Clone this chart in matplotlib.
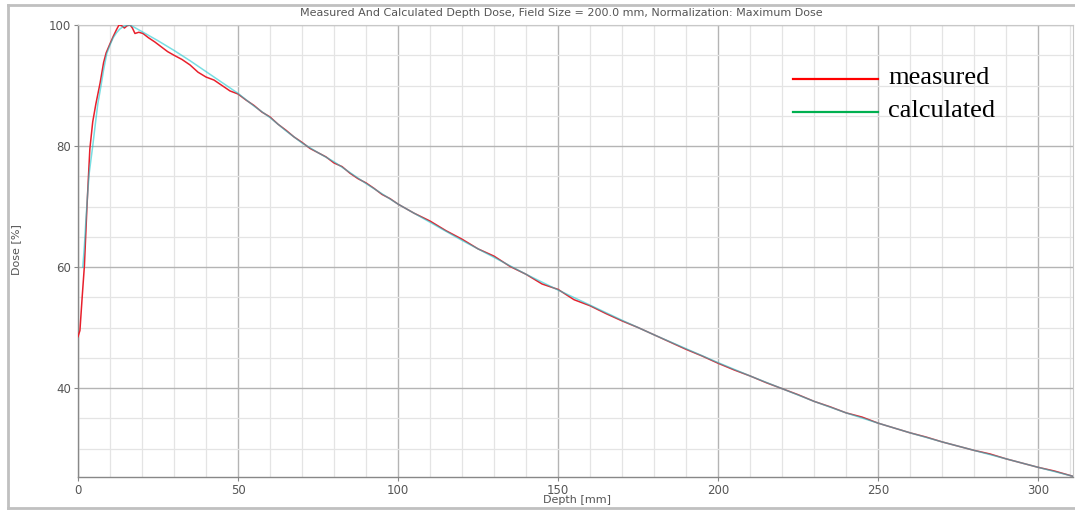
import numpy as np
import matplotlib
matplotlib.use('Agg')
import matplotlib.pyplot as plt
from matplotlib.lines import Line2D
from matplotlib.ticker import MultipleLocator

# measured depth dose (mm, %)
measDepth = [0, 0.6, 1.3, 2.0, 2.8, 3.7, 4.6, 5.6, 6.9, 8.0, 8.8, 10, 11, 12, 12.8,
             13.6, 14.5, 15.4, 16.3, 17.0, 17.8, 19.0, 20.3, 22, 24, 26, 28, 30,
             32.5, 35, 37.5, 40, 42.5, 45, 47.5, 50, 52.5, 55, 57.5, 60, 62.5, 65,
             67.5, 70, 72.5, 75, 77.5, 80, 82.5, 85, 87.5, 90, 92.5, 95, 97.5, 100,
             105, 110, 115, 120, 125, 130, 135, 140, 145, 150, 155, 160, 165, 170,
             175, 180, 185, 190, 195, 200, 205, 210, 215, 220, 225, 230, 235, 240,
             245, 250, 255, 260, 265, 270, 275, 280, 285, 290, 295, 300, 305, 311]
measDose = [48.5, 49.5, 55.0, 60.2, 70.0, 79.5, 84.0, 87.0, 90.4, 93.8, 95.4, 96.9,
            98.1, 99.2, 100.0, 99.9, 99.5, 99.9, 100.0, 99.5, 98.6, 98.8, 98.6, 97.9,
            97.2, 96.4, 95.6, 95.0, 94.3, 93.4, 92.2, 91.4, 90.9, 90.0, 89.1, 88.6,
            87.6, 86.7, 85.6, 84.8, 83.6, 82.6, 81.5, 80.6, 79.6, 78.9, 78.2, 77.2,
            76.6, 75.5, 74.6, 73.9, 73.0, 72.0, 71.3, 70.4, 68.9, 67.6, 66.0, 64.6,
            63.0, 61.8, 60.1, 58.8, 57.2, 56.3, 54.6, 53.6, 52.3, 51.1, 50.0, 48.8,
            47.6, 46.4, 45.3, 44.1, 43.0, 42.0, 40.9, 39.9, 38.9, 37.8, 36.9, 35.9,
            35.2, 34.2, 33.4, 32.6, 31.9, 31.1, 30.4, 29.7, 29.1, 28.3, 27.6, 26.9,
            26.3, 25.4]

# calculated depth dose (mm, %)
calcDepth = [1.5, 2.0, 2.5, 3.0, 3.5, 4.6, 5.5, 6.2, 7.2, 8.0, 9.0, 10, 11, 12, 13,
             14, 15, 16, 17, 20, 25, 30, 35, 40, 45, 50, 55, 60, 65, 70, 75, 80, 85,
             90, 95, 100, 110, 120, 130, 140, 150, 160, 170, 180, 190, 200, 210, 220,
             230, 240, 250, 260, 270, 280, 290, 300, 311]
calcDose = [60.0, 63.5, 68.0, 72.0, 75.5, 80.0, 84.0, 87.0, 90.0, 92.6, 95.3, 96.7,
            97.9, 98.7, 99.3, 99.7, 99.9, 100.0, 99.8, 98.9, 97.4, 95.8, 94.1, 92.3,
            90.5, 88.7, 86.6, 84.7, 82.5, 80.5, 78.9, 77.4, 75.6, 73.8, 72.1, 70.4,
            67.4, 64.4, 61.6, 58.8, 56.2, 53.7, 51.2, 48.8, 46.5, 44.2, 42.0, 39.9,
            37.8, 35.9, 34.2, 32.6, 31.1, 29.7, 28.3, 26.9, 25.4]

legendNames = ['measured', 'calculated']
legendColors = ['#ff0000', '#00b050']

W, H = 1075, 511
fig = plt.figure(figsize=(W/100, H/100), dpi=100)
ax = fig.add_axes([78/W, 1-477/H, (1073-78)/W, (477-25)/H])

ax.plot(measDepth, measDose, color='#e8202c', lw=1.1, zorder=3)
ax.plot(calcDepth, calcDose, color='#20c8d0', lw=1.1, alpha=0.6, zorder=4)

ax.set_xlim(0, 310.9)
ax.set_ylim(25.3, 100)
ax.xaxis.set_major_locator(MultipleLocator(50))
ax.xaxis.set_minor_locator(MultipleLocator(10))
ax.yaxis.set_major_locator(MultipleLocator(20))
ax.yaxis.set_minor_locator(MultipleLocator(5))
ax.grid(which='major', color='#b4b4b4', lw=1.0, zorder=1)
ax.grid(which='minor', color='#e4e4e4', lw=0.9, zorder=0)
ax.set_axisbelow(True)
ax.tick_params(which='major', length=3, width=0.8, color='#888888',
               labelsize=8.5, labelcolor='#555555', pad=2)
ax.tick_params(which='minor', length=0)
for side in ['left', 'bottom']:
    ax.spines[side].set_color('#888888')
    ax.spines[side].set_linewidth(1.0)
for side in ['top', 'right']:
    ax.spines[side].set_color('#c8c8c8')
    ax.spines[side].set_linewidth(0.8)

fig.text(561/W, 1-13/H, 'Measured And Calculated Depth Dose, Field Size = 200.0 mm, '
         'Normalization: Maximum Dose', ha='center', va='center',
         fontsize=8, color='#555555')
fig.text(577/W, 1-500/H, 'Depth [mm]', ha='center', va='center',
         fontsize=8, color='#555555')
fig.text(16/W, 1-250/H, 'Dose [%]', ha='center', va='center', rotation=90,
         fontsize=8, color='#555555')

# outer frame
for xs, ys in [([8, 1075], [5, 5]), ([8, 8], [5, 508]), ([8, 1075], [508, 508])]:
    fig.add_artist(Line2D([x/W for x in xs], [1-y/H for y in ys],
                          color='#c0c0c0', lw=2.0))

# pasted legend
for i, (name, color) in enumerate(zip(legendNames, legendColors)):
    y = [79, 112][i]
    fig.add_artist(Line2D([793/W, 878/W], [1-y/H, 1-y/H], color=color, lw=1.6))
    fig.text(888/W, 1-(y-1)/H, name, ha='left', va='center', fontsize=19,
             family='Liberation Serif', color='black')

fig.savefig('out.png', dpi=100)
